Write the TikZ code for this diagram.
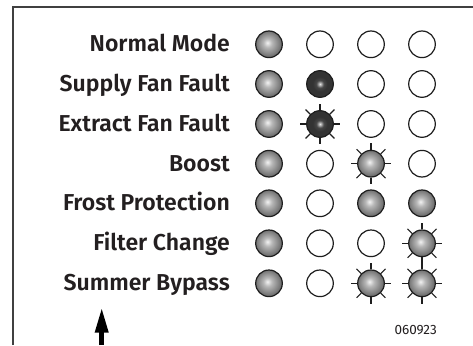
\documentclass[tikz,border=0pt]{standalone}
\usepackage{fontspec}
\setmainfont{Fira Sans}[BoldFont={* SemiBold}]
\usetikzlibrary{arrows.meta}
\definecolor{txt}{HTML}{231F20}
\definecolor{rim}{HTML}{1E1E1E}
\pgfdeclareradialshading{grayled}{\pgfpoint{-3bp}{3bp}}{color(0bp)=(black!5); color(8bp)=(black!28); color(25bp)=(black!58); color(50bp)=(black!58)}
\pgfdeclareradialshading{darkled}{\pgfpoint{0bp}{0bp}}{color(0bp)=(black!10); color(7bp)=(black!72); color(14bp)=(black!80); color(50bp)=(black!80)}
\tikzset{
  lbl/.style={anchor=base east, inner sep=0pt, font=\fontsize{23}{25}\selectfont\bfseries, text=txt},
  ledoff/.style={circle, draw=rim, line width=1.2pt, minimum size=26.6pt, inner sep=0pt, fill=white},
  ledgray/.style={ledoff, shading=grayled},
  leddark/.style={ledoff, shading=darkled},
  ray/.style={draw=rim, line width=1.1pt},
  frame/.style={draw=black!75, line width=1.5pt}
}
\newcommand{\myrays}[1]{\foreach \a in {0,45,...,315} \draw[ray] (#1.\a) -- ++(\a:6.5pt);}
\begin{document}
\begin{tikzpicture}[x=1pt,y=-1pt]
\useasboundingbox (0,0) rectangle (473,345);
\fill[white] (0,0) rectangle (473,345);
\coordinate (fb) at (13,345);
\coordinate (ft) at (13,7);
\coordinate (fr) at (473,7);
\draw[frame] (fb) -- (ft) -- (fr);
% labels
\foreach \t/\y in {Normal Mode/44.3, Supply Fan Fault/84, Extract Fan Fault/124, Boost/163.7, Frost Protection/203.3, Filter Change/243.3, Summer Bypass/283.3}
  \node[lbl] at (230,\y+7.4) {\t};
% row 1
\node[ledgray] (a1) at (269,44.3) {};
\node[ledoff]  (a2) at (320,44.3) {};
\node[ledoff]  (a3) at (371,44.3) {};
\node[ledoff]  (a4) at (422,44.3) {};
% row 2
\node[ledgray] (b1) at (269,84) {};
\node[leddark] (b2) at (320,84) {};
\node[ledoff]  (b3) at (371,84) {};
\node[ledoff]  (b4) at (422,84) {};
% row 3
\node[ledgray] (c1) at (269,124) {};
\node[leddark] (c2) at (320,124) {};
\node[ledoff]  (c3) at (371,124) {};
\node[ledoff]  (c4) at (422,124) {};
\myrays{c2}
% row 4
\node[ledgray] (d1) at (269,163.7) {};
\node[ledoff]  (d2) at (320,163.7) {};
\node[ledgray] (d3) at (371,163.7) {};
\node[ledoff]  (d4) at (422,163.7) {};
\myrays{d3}
% row 5
\node[ledgray] (e1) at (269,203.3) {};
\node[ledoff]  (e2) at (320,203.3) {};
\node[ledgray] (e3) at (371,203.3) {};
\node[ledgray] (e4) at (422,203.3) {};
% row 6
\node[ledgray] (f1) at (269,243.3) {};
\node[ledoff]  (f2) at (320,243.3) {};
\node[ledoff]  (f3) at (371,243.3) {};
\node[ledgray] (f4) at (422,243.3) {};
\myrays{f4}
% row 7
\node[ledgray] (g1) at (269,283.3) {};
\node[ledoff]  (g2) at (320,283.3) {};
\node[ledgray] (g3) at (371,283.3) {};
\node[ledgray] (g4) at (422,283.3) {};
\myrays{g3}
\myrays{g4}
% arrow
\coordinate (abot) at (101.7,345);
\coordinate (atip) at (101.7,307.3);
\draw[draw=black, line width=5pt, -{Triangle[length=25.4pt,width=12.5pt]}] (abot) -- (atip);
% code
\node[anchor=base east, inner sep=0pt, font=\fontsize{13.5}{15}\selectfont, text=txt] (code) at (437,334) {060923};
\end{tikzpicture}
\end{document}
